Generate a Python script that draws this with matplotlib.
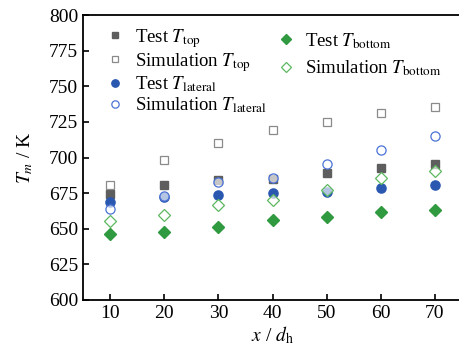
import matplotlib.pyplot as plt
from matplotlib.lines import Line2D

plt.rcParams['font.family'] = 'Liberation Serif'
plt.rcParams['mathtext.fontset'] = 'stix'

# Axial position (x / d_h)
x_pos = [10, 20, 30, 40, 50, 60, 70]

# Wall temperatures (K)
test_top = [674.1, 681.0, 684.0, 685.0, 689.0, 692.5, 695.3]
sim_top = [680.4, 698.0, 710.3, 719.2, 724.8, 731.0, 735.4]
test_lateral = [669.0, 672.0, 673.6, 675.0, 675.5, 678.3, 680.6]
sim_lateral = [664.0, 672.7, 683.0, 685.5, 695.3, 705.4, 715.4]
test_bottom = [646.6, 647.9, 651.2, 655.8, 658.4, 661.7, 663.0]
sim_bottom = [655.6, 659.6, 666.8, 670.1, 677.3, 685.3, 690.2]

y_ticks = [600, 625, 650, 675, 700, 725, 750, 775, 800]

fig = plt.figure(figsize=(4.59, 3.53), dpi=100)
ax = fig.add_axes([83 / 459, 1 - 300 / 353, (462 - 83) / 459, 285 / 353])

open_face = (1, 1, 1, 0.65)
series = [
    (test_top, dict(marker='s', ms=6.2, mfc='#5e5e5e', mec='#5e5e5e'), r'Test $T_{\mathrm{top}}$'),
    (sim_top, dict(marker='s', ms=6.2, mfc=open_face, mec='#8a8a8a', mew=0.9), r'Simulation $T_{\mathrm{top}}$'),
    (test_lateral, dict(marker='o', ms=6.6, mfc='#2a58b0', mec='#2a58b0'), r'Test $T_{\mathrm{lateral}}$'),
    (sim_lateral, dict(marker='o', ms=6.6, mfc=open_face, mec='#4a72d6', mew=0.9), r'Simulation $T_{\mathrm{lateral}}$'),
    (test_bottom, dict(marker='D', ms=6.0, mfc='#2f9a3f', mec='#2f9a3f'), r'Test $T_{\mathrm{bottom}}$'),
    (sim_bottom, dict(marker='D', ms=6.0, mfc=open_face, mec='#5cb860', mew=0.9), r'Simulation $T_{\mathrm{bottom}}$'),
]

handles = []
for vals, style, label in series:
    ax.plot(x_pos, vals, ls='none', **style)
    handles.append(Line2D([], [], ls='none', label=label,
                          **{**style, 'ms': style['ms'] * 0.8}))

leg1 = ax.legend(handles=handles[:4], loc='upper left', bbox_to_anchor=(0.04, 0.985),
                 frameon=False, fontsize=13.5, handlelength=1.0, handletextpad=0.55,
                 labelspacing=0.05, borderaxespad=0)
ax.add_artist(leg1)
ax.legend(handles=handles[4:], loc='upper left', bbox_to_anchor=(0.49, 0.97),
          frameon=False, fontsize=13.5, handlelength=1.0, handletextpad=0.55,
          labelspacing=0.4, borderaxespad=0)

ax.set_xlim(5, 75)
ax.set_ylim(600, 800)
ax.set_xticks(x_pos)
ax.set_yticks(y_ticks)
ax.tick_params(direction='in', length=4, width=1.2, labelsize=14, top=False, right=False)
for s in ax.spines.values():
    s.set_linewidth(1.3)

ax.set_xlabel(r'$x$ / $d_{\mathrm{h}}$', fontsize=14, labelpad=2)
ax.set_ylabel(r'$T_{m}$ / K', fontsize=14, labelpad=10)

fig.savefig('out.png', dpi=100)
